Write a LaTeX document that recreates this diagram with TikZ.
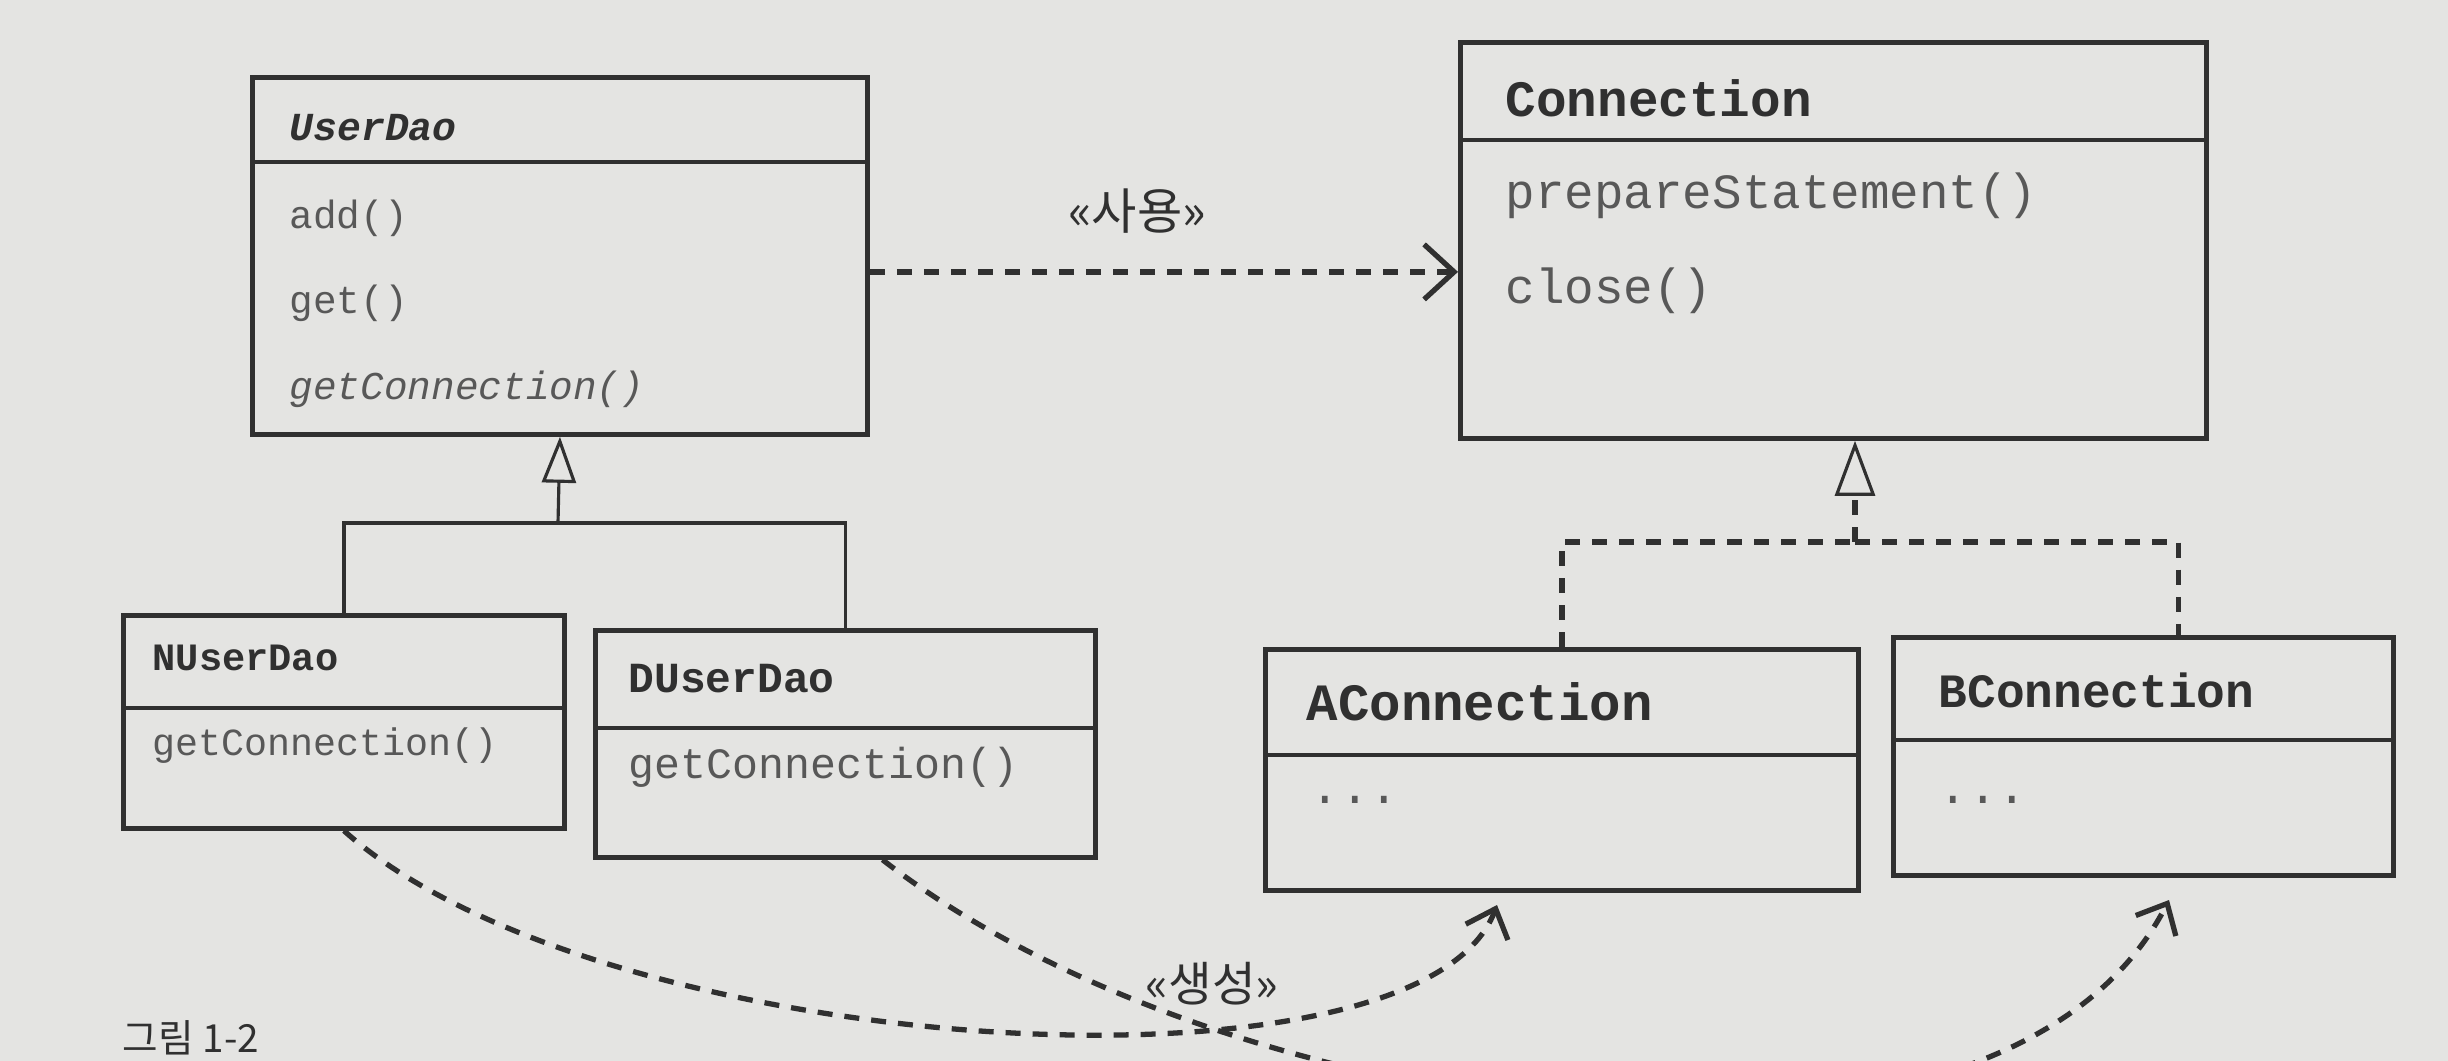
\documentclass[tikz,border=0pt]{standalone}
\usepackage{fontspec}
\setmonofont{Liberation Mono}
\newfontfamily\krfont{Noto Sans CJK KR}
\usetikzlibrary{arrows.meta, positioning, calc}
\definecolor{pagegray}{RGB}{228, 228, 226}
\definecolor{inkgray}{RGB}{48, 48, 48}
\definecolor{methgray}{RGB}{88, 88, 88}

\tikzset{
  classbox/.style={draw=inkgray, line width=1.3pt, inner sep=0pt, anchor=north west},
  classline/.style={draw=inkgray, line width=1.3pt},
  clsname/.style={anchor=west, inner sep=0pt, text=inkgray, font=\fontsize{#1}{#1}\selectfont\ttfamily\bfseries},
  method/.style={anchor=west, inner sep=0pt, text=methgray, font=\fontsize{#1}{#1}\selectfont\ttfamily},
  inherit/.style={draw=inkgray, line width=0.9pt},
  dashlink/.style={draw=inkgray, line width=1.5pt, dash pattern=on 0.15cm off 0.12cm},
  stereo/.style={inner sep=0pt, text=inkgray, font=\fontsize{13.5pt}{13.5pt}\selectfont\krfont},
}

\begin{document}
\begin{tikzpicture}[x=0.01cm, y=-0.01cm]
  \useasboundingbox (0,0) rectangle (2448,1061);
  \fill[pagegray] (0,0) rectangle (2448,1061);
  \begin{scope}
  \clip (0,0) rectangle (2448,1061);

  \node[classbox, minimum width=6.15cm, minimum height=3.57cm] (userdao) at (250,75) {};
  \draw[classline] ([yshift=-0.87cm]userdao.north west) -- ([yshift=-0.87cm]userdao.north east);
  \node[clsname=11.3pt, font=\fontsize{11.3pt}{11.3pt}\selectfont\ttfamily\bfseries\itshape] (udname) at (289,128) {UserDao};
  \node[method=11.2pt] (udadd) at (289,218) {add()};
  \node[method=11.2pt] (udget) at (289,303) {get()};
  \node[method=11.2pt, font=\fontsize{11.2pt}{11.2pt}\selectfont\ttfamily\itshape] (udconn) at (289,389) {getConnection()};

  \node[classbox, minimum width=7.46cm, minimum height=3.96cm] (connection) at (1458,40) {};
  \draw[classline] ([yshift=-1.0cm]connection.north west) -- ([yshift=-1.0cm]connection.north east);
  \node[clsname=14.5pt] (cnname) at (1505,98) {Connection};
  \node[method=14pt] (cnprep) at (1505,196) {prepareStatement()};
  \node[method=14pt] (cnclose) at (1505,291) {close()};

  \node[classbox, minimum width=4.41cm, minimum height=2.13cm] (nuserdao) at (121,613) {};
  \draw[classline] ([yshift=-0.95cm]nuserdao.north west) -- ([yshift=-0.95cm]nuserdao.north east);
  \node[clsname=11pt] (nuname) at (152,658) {NUserDao};
  \node[method=10.9pt] (nuconn) at (152,746) {getConnection()};

  \node[classbox, minimum width=5.0cm, minimum height=2.27cm] (duserdao) at (593,628) {};
  \draw[classline] ([yshift=-1.0cm]duserdao.north west) -- ([yshift=-1.0cm]duserdao.north east);
  \node[clsname=12.2pt] (duname) at (628,679) {DUserDao};
  \node[method=12.3pt] (duconn) at (628,767) {getConnection()};

  \node[classbox, minimum width=5.93cm, minimum height=2.41cm] (aconn) at (1263,647) {};
  \draw[classline] ([yshift=-1.08cm]aconn.north west) -- ([yshift=-1.08cm]aconn.north east);
  \node[clsname=14.9pt] (acname) at (1306,702) {AConnection};
  \node[method=14pt] (acdots) at (1310,800) {...};

  \node[classbox, minimum width=5.0cm, minimum height=2.38cm] (bconn) at (1891,635) {};
  \draw[classline] ([yshift=-1.05cm]bconn.north west) -- ([yshift=-1.05cm]bconn.north east);
  \node[clsname=13.6pt] (bcname) at (1938,690) {BConnection};
  \node[method=14pt] (bcdots) at (1938,800) {...};

  \coordinate (gbar) at (558,523);
  \draw[inherit, -{Triangle[open, length=0.46cm, width=0.34cm, line width=0.9pt]}] (gbar) -- (userdao.south);
  \draw[inherit] (nuserdao.north) |- (gbar) -| (duserdao.north);

  \coordinate (rbar) at (1855,542);
  \draw[dashlink, -{Triangle[open, length=0.55cm, width=0.4cm, line width=0.9pt]}] (rbar) -- (rbar |- connection.south);
  \draw[dashlink] (aconn.north) |- (rbar);
  \draw[dashlink] (rbar) -| ([xshift=0.35cm]bconn.north);

  \coordinate (usestart) at ([yshift=-0.16cm]userdao.east);
  \draw[dashlink, -{Straight Barb[length=0.3cm, width=0.55cm, line width=1.5pt]}] (usestart) -- (usestart -| connection.west);
  \node[stereo, font=\fontsize{14pt}{14pt}\selectfont\krfont] (uselbl) at (1137,211) {«사용»};

  \coordinate (dstart) at ([xshift=0.37cm]duserdao.south);
  \coordinate (atip) at (1497,905);
  \coordinate (btip) at (2169,900);
  \draw[dashlink, -{Straight Barb[length=0.25cm, width=0.45cm, line width=1.5pt]}] (nuserdao.south) .. controls (600,1060) and (1420,1110) .. (atip);
  \draw[dashlink, -{Straight Barb[length=0.25cm, width=0.45cm, line width=1.5pt]}] (dstart) .. controls (1230,1130) and (2000,1230) .. (btip);
  \node[stereo] (makelbl) at (1212,984) {«생성»};

  \node[anchor=south west, inner sep=0pt, text=inkgray, font=\fontsize{11pt}{11pt}\selectfont\krfont] (caption) at (122,1056) {그림 1-2};
  \end{scope}
\end{tikzpicture}
\end{document}
